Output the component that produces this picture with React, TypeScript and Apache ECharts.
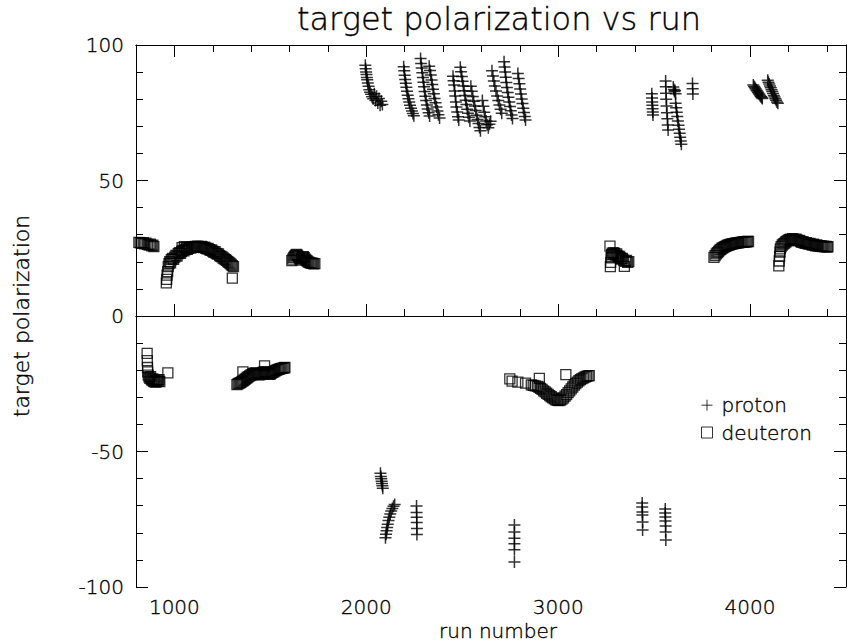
import { useEffect, useRef } from "react";
import * as echarts from "echarts";

const FONT = "DejaVu Sans";
const WEIGHT = 200;

// axis ticks
const xMajorTicks = [1000, 2000, 3000, 4000];
const xMinorTicks = [1200, 1400, 1600, 1800, 2200, 2400, 2600, 2800, 3200, 3400, 3600, 3800, 4200, 4400];

// ---- proton runs (positive polarization) ----
const protonA: [number, number][] = [
  [1995, 92.5], [1997, 91.2], [1999, 90.0], [2001, 89.1], [2003, 88.0], [2005, 87.2], [2008, 86.0],
  [2012, 84.8], [2016, 83.5], [2020, 82.6], [2025, 81.8], [2030, 80.9], [2036, 80.2], [2042, 82.0],
  [2048, 79.5], [2054, 81.1], [2060, 78.6], [2066, 80.3], [2072, 77.8], [2078, 79.2], [2084, 78.0],
];
const protonB: [number, number][] = [
  [2195, 92.0], [2198, 90.5], [2200, 88.8], [2203, 87.3], [2206, 85.9], [2209, 84.4], [2212, 82.9],
  [2216, 81.5], [2220, 80.2], [2224, 79.0], [2228, 77.8], [2233, 76.7], [2238, 75.6], [2243, 74.7], [2248, 73.9],
];
const protonC: [number, number][] = [
  [2283, 95.0], [2286, 93.2], [2289, 91.5], [2292, 89.8], [2295, 88.0], [2298, 86.3], [2301, 84.6],
  [2304, 82.8], [2308, 81.1], [2312, 79.5], [2316, 77.9], [2320, 76.4], [2325, 75.0], [2330, 73.8],
  [2328, 92.2], [2332, 90.6], [2336, 88.9], [2340, 87.1], [2344, 85.4], [2348, 83.7], [2352, 82.0],
  [2356, 80.3], [2361, 78.7], [2366, 77.1], [2371, 75.6], [2376, 74.3], [2382, 73.1],
];
const protonD: [number, number][] = [
  [2452, 88.5], [2455, 86.8], [2458, 85.2], [2461, 83.0], [2464, 81.2], [2467, 79.0], [2470, 77.1],
  [2474, 75.3], [2478, 73.5], [2482, 72.3],
  [2490, 91.8], [2494, 90.1], [2498, 88.4], [2502, 86.6], [2506, 84.9], [2510, 83.1], [2514, 81.4],
  [2518, 79.6], [2522, 78.0], [2526, 76.3], [2530, 74.8], [2535, 73.3], [2540, 72.0],
  [2545, 84.8], [2550, 82.9], [2555, 81.0], [2560, 79.2], [2565, 77.5], [2570, 75.8], [2575, 74.1],
  [2580, 72.5], [2585, 71.0], [2590, 69.6], [2595, 68.4],
  [2605, 79.5], [2610, 77.4], [2615, 75.2], [2620, 73.5], [2625, 72.0], [2630, 70.6], [2636, 69.5],
  [2642, 70.8], [2648, 71.9],
];
const protonE: [number, number][] = [
  [2655, 90.5], [2660, 88.6], [2665, 86.7], [2670, 84.9], [2676, 83.0], [2682, 81.2], [2688, 79.5],
  [2694, 77.9], [2700, 76.3], [2706, 74.8],
  [2718, 93.8], [2721, 91.9], [2724, 90.0], [2727, 88.1], [2730, 86.2], [2733, 84.3], [2737, 82.5],
  [2741, 80.7], [2745, 79.0], [2749, 77.3], [2753, 75.7], [2757, 74.2], [2762, 72.9],
  [2790, 89.5], [2794, 87.6], [2798, 85.7], [2802, 83.8], [2806, 81.9], [2810, 80.1], [2814, 78.4],
  [2818, 76.7], [2822, 75.1], [2826, 73.6], [2830, 72.3],
];
const protonF: [number, number][] = [
  [3488, 82.0], [3489, 80.4], [3490, 79.0], [3491, 77.8], [3492, 76.5], [3493, 75.3], [3494, 74.2],
  [3560, 86.7], [3561, 84.6], [3562, 82.2], [3563, 80.0], [3565, 77.5], [3567, 75.0], [3569, 72.8],
  [3571, 70.5], [3573, 68.6],
  [3600, 84.5], [3603, 83.6], [3606, 82.8], [3609, 83.2], [3612, 82.0],
  [3612, 78.5], [3615, 76.8], [3618, 75.2], [3621, 73.6], [3624, 72.0], [3627, 70.4], [3630, 68.9],
  [3633, 67.4], [3636, 66.0], [3639, 64.6], [3642, 63.4],
  [3700, 85.8], [3701, 83.9], [3702, 81.9],
];
const protonG: [number, number][] = [
  [4017, 85.2], [4021, 84.7], [4025, 84.3], [4029, 83.9], [4033, 83.4], [4037, 83.0], [4041, 82.6],
  [4045, 82.1], [4049, 81.7], [4053, 81.3], [4057, 80.9], [4061, 80.6], [4064, 80.3],
  [4092, 87.0], [4096, 86.3], [4100, 85.6], [4104, 84.9], [4108, 84.2], [4112, 83.5], [4116, 82.8],
  [4120, 82.1], [4124, 81.4], [4128, 80.8], [4132, 80.2], [4136, 79.6], [4140, 79.0], [4145, 78.5],
];

// ---- proton runs (negative polarization) ----
const protonNeg: [number, number][] = [
  [2074, -58.0], [2076, -59.2], [2078, -60.1], [2080, -61.0], [2082, -61.8], [2084, -62.6], [2086, -63.6],
  [2100, -81.8], [2103, -80.5], [2106, -79.2], [2109, -78.0], [2112, -76.8], [2116, -75.5], [2120, -74.3],
  [2125, -73.1], [2130, -72.0], [2136, -71.0], [2142, -70.2], [2148, -69.6],
  [2262, -70.1], [2262, -72.5], [2263, -74.3], [2263, -76.2], [2264, -78.4], [2264, -80.6],
  [2772, -77.1], [2772, -79.7], [2772, -82.0], [2772, -84.0], [2772, -86.3], [2772, -90.8],
  [3438, -69.0], [3438, -70.5], [3439, -72.3], [3439, -73.4], [3440, -76.0], [3440, -79.0],
  [3558, -71.2], [3558, -72.7], [3559, -74.2], [3559, -75.6], [3560, -77.5], [3560, -79.7], [3561, -82.7],
];

// ---- deuteron runs (positive polarization) ----
const deuteronA: [number, number][] = [
  [815, 27.2], [822, 27.0], [830, 26.8], [838, 27.1], [845, 26.6], [852, 26.9], [860, 26.4],
  [868, 26.2], [875, 26.5], [882, 25.9], [888, 26.1], [893, 25.6],
];
const deuteronB: [number, number][] = [
  [958, 12.2], [960, 13.5], [962, 15.1], [965, 16.4], [968, 18.2], [972, 19.3], [976, 20.1],
  [980, 19.6], [984, 20.8], [990, 21.3], [996, 20.9], [1002, 21.7], [1008, 22.4], [1014, 22.1],
  [1020, 23.0], [1026, 23.4], [1032, 23.1], [1038, 23.8], [1040, 25.2], [1044, 24.2], [1050, 24.0],
  [1052, 25.6], [1056, 24.5], [1062, 24.8], [1064, 25.4], [1068, 24.6], [1074, 25.0], [1080, 25.3],
  [1086, 25.1], [1092, 25.4], [1098, 25.6], [1104, 25.3], [1110, 25.7], [1116, 25.5], [1122, 25.8],
  [1128, 25.6], [1134, 25.4], [1140, 25.7], [1146, 25.5], [1152, 25.2], [1158, 25.4], [1164, 25.0],
  [1170, 24.8], [1176, 24.9], [1182, 24.5], [1188, 24.2], [1194, 24.4], [1200, 23.9], [1206, 23.5],
  [1212, 23.7], [1218, 23.1], [1224, 22.8], [1230, 22.9], [1236, 22.3], [1242, 22.0], [1248, 21.8],
  [1254, 21.4], [1260, 21.1], [1266, 20.8], [1272, 20.5], [1278, 20.1], [1284, 19.8], [1290, 19.4],
  [1296, 19.0], [1302, 18.6], [1308, 18.2], [1302, 14.0],
];
const deuteronC: [number, number][] = [
  [1612, 20.4], [1617, 21.0], [1622, 21.6], [1627, 22.1], [1632, 22.5], [1637, 22.7], [1642, 22.4],
  [1647, 21.9], [1652, 21.2], [1657, 20.6], [1662, 21.1], [1667, 21.7], [1672, 21.9], [1677, 21.5],
  [1682, 21.0], [1687, 20.6], [1692, 20.3], [1697, 20.0], [1702, 19.8], [1708, 19.6], [1714, 19.4],
  [1720, 19.5], [1726, 19.2], [1732, 19.3],
];
const deuteronD: [number, number][] = [
  [3270, 25.8], [3272, 18.2], [3274, 19.8], [3276, 21.5], [3278, 22.6], [3282, 23.2], [3286, 22.8],
  [3290, 23.4], [3295, 23.0], [3300, 22.5], [3305, 22.9], [3310, 22.2], [3315, 21.8], [3320, 22.0],
  [3325, 21.4], [3330, 21.0], [3335, 21.3], [3340, 20.6], [3345, 18.3], [3350, 20.2], [3356, 20.5],
  [3362, 19.8], [3368, 20.1],
];
const deuteronE: [number, number][] = [
  [3812, 21.6], [3818, 22.3], [3824, 22.9], [3830, 23.4], [3836, 23.8], [3842, 24.3], [3848, 24.6],
  [3854, 25.0], [3860, 25.2], [3866, 25.5], [3872, 25.7], [3878, 25.9], [3884, 26.1], [3890, 26.2],
  [3896, 26.4], [3902, 26.5], [3908, 26.6], [3914, 26.7], [3920, 26.8], [3926, 26.9], [3932, 27.0],
  [3938, 27.0], [3944, 27.1], [3950, 27.2], [3956, 27.2], [3962, 27.3], [3968, 27.3], [3974, 27.4],
  [3980, 27.4], [3986, 27.5], [3992, 27.5],
];
const deuteronF: [number, number][] = [
  [4150, 18.5], [4152, 20.3], [4154, 22.0], [4156, 23.6], [4158, 24.8], [4162, 25.6], [4168, 26.2],
  [4174, 26.6], [4180, 26.9], [4186, 27.3], [4192, 27.6], [4198, 27.9], [4204, 28.2], [4210, 28.4],
  [4216, 28.2], [4222, 28.5], [4228, 28.3], [4234, 28.1], [4240, 28.4], [4246, 28.0], [4252, 27.7],
  [4258, 27.9], [4264, 27.5], [4270, 27.2], [4276, 27.4], [4282, 27.0], [4288, 26.8], [4294, 27.1],
  [4300, 26.7], [4306, 26.5], [4312, 26.8], [4318, 26.4], [4324, 26.2], [4330, 26.5], [4336, 26.1],
  [4342, 25.9], [4348, 26.2], [4354, 25.8], [4360, 26.0], [4366, 25.7], [4372, 25.9], [4378, 25.6],
  [4384, 25.8], [4390, 25.5], [4396, 25.7], [4402, 25.4], [4406, 25.6],
];

// ---- deuteron runs (negative polarization) ----
const deuteronNegA: [number, number][] = [
  [858, -13.8], [859, -16.5], [860, -19.0], [861, -20.6], [864, -21.8], [868, -22.5], [872, -23.0],
  [876, -22.4], [880, -23.4], [884, -23.8], [888, -23.2], [892, -24.0], [896, -24.3], [900, -23.7],
  [904, -24.4], [908, -24.1], [912, -23.6], [916, -24.0], [920, -23.5], [924, -24.2], [966, -21.0],
];
const deuteronNegB: [number, number][] = [
  [1326, -25.3], [1332, -25.0], [1338, -24.8], [1344, -24.6], [1350, -24.3], [1356, -24.0], [1357, -20.6],
  [1362, -23.7], [1368, -23.4], [1374, -23.0], [1380, -22.7], [1386, -22.4], [1392, -22.1], [1398, -21.8],
  [1404, -21.6], [1410, -21.3], [1416, -21.1], [1422, -21.0], [1428, -21.2], [1434, -21.5], [1440, -21.7],
  [1446, -21.6], [1452, -21.3], [1458, -21.0], [1464, -20.7], [1470, -20.5], [1470, -18.4], [1476, -20.8],
  [1482, -21.0], [1488, -21.3], [1494, -21.5], [1500, -21.4], [1506, -21.1], [1512, -20.8], [1518, -20.6],
  [1524, -20.3], [1530, -20.1], [1536, -19.9], [1542, -19.7], [1548, -19.6], [1554, -19.4], [1560, -19.3],
  [1566, -19.2], [1572, -19.1], [1576, -19.0],
];
const deuteronNegC: [number, number][] = [
  [2748, -23.2], [2760, -24.0], [2790, -24.4], [2830, -24.8], [2860, -25.4], [2870, -25.6], [2880, -25.8],
  [2892, -26.0], [2900, -26.3], [2902, -23.0], [2908, -26.7], [2916, -27.1], [2924, -27.6], [2932, -28.0],
  [2940, -28.5], [2948, -28.9], [2956, -29.4], [2964, -29.8], [2972, -30.2], [2980, -30.6], [2988, -30.9],
  [2996, -31.1], [3004, -31.2], [3012, -31.0], [3020, -30.7], [3028, -30.2], [3036, -29.6], [3040, -21.6],
  [3044, -29.0], [3052, -28.3], [3060, -27.6], [3068, -26.9], [3076, -26.2], [3084, -25.5], [3092, -24.9],
  [3100, -24.4], [3108, -23.9], [3116, -23.5], [3124, -23.1], [3132, -22.8], [3140, -22.5], [3148, -22.3],
  [3156, -22.1], [3162, -22.0],
];

const protonData = [
  ...protonA, ...protonB, ...protonC, ...protonD, ...protonE, ...protonF, ...protonG, ...protonNeg,
];
const deuteronData = [
  ...deuteronA, ...deuteronB, ...deuteronC, ...deuteronD, ...deuteronE, ...deuteronF,
  ...deuteronNegA, ...deuteronNegB, ...deuteronNegC,
];

const PLUS = "path://M0,5L10,5M5,0L5,10";

export default function App() {
  const ref = useRef<HTMLDivElement>(null);

  useEffect(() => {
    if (!ref.current) return;
    const chart = echarts.init(ref.current, undefined, { renderer: "svg" });

    // thin monoline lettering, lightly outlined so the strokes read as black
    const txt = (fontSize: number) => ({
      fontFamily: FONT,
      fontWeight: WEIGHT,
      fontSize,
      color: "#000",
      textBorderColor: "#000",
      textBorderWidth: 0.35,
    });
    const axisLine = { show: true, lineStyle: { color: "#000", width: 1 } };
    const xBase = {
      type: "value" as const,
      min: 800,
      max: 4500,
      axisLine,
      splitLine: { show: false },
    };
    const yBase = {
      type: "value" as const,
      min: -100,
      max: 100,
      interval: 50,
      axisLine,
      axisTick: { show: true, inside: true, length: 12, lineStyle: { color: "#000" } },
      minorTick: { show: true, splitNumber: 5, length: 7, lineStyle: { color: "#000" } },
      splitLine: { show: false },
      minorSplitLine: { show: false },
    };

    chart.setOption({
      animation: false,
      backgroundColor: "#fff",
      textStyle: { fontFamily: FONT, fontWeight: WEIGHT, color: "#000" },
      title: [
        {
          text: "target polarization vs run",
          left: 499,
          top: 3,
          textAlign: "center",
          padding: 0,
          textStyle: txt(32),
        },
        {
          text: "run number",
          left: 498,
          top: 621,
          textAlign: "center",
          padding: 0,
          textStyle: txt(20),
        },
      ],
      grid: { left: 136, right: 1, top: 45, bottom: 56, containLabel: false },
      legend: {
        orient: "vertical",
        left: 701,
        top: 395,
        itemWidth: 11,
        itemHeight: 11,
        itemGap: 7,
        padding: 0,
        textStyle: { ...txt(20), lineHeight: 20, padding: [0, 0, 0, 4] },
        itemStyle: { color: "rgba(0,0,0,0)", borderColor: "#000", borderWidth: 1 },
        data: [
          { name: "proton", icon: PLUS },
          { name: "deuteron", icon: "rect" },
        ],
      },
      xAxis: [
        {
          ...xBase,
          position: "bottom",
          axisTick: { show: true, inside: true, length: 12, customValues: xMajorTicks, lineStyle: { color: "#000" } },
          axisLabel: {
            show: true,
            customValues: xMajorTicks,
            formatter: (v: number) => String(v),
            ...txt(20),
            margin: 10,
          },
        },
        {
          ...xBase,
          position: "bottom",
          axisTick: { show: true, inside: true, length: 7, customValues: xMinorTicks, lineStyle: { color: "#000" } },
          axisLabel: { show: false },
        },
        {
          ...xBase,
          position: "top",
          axisTick: { show: true, inside: true, length: 12, customValues: xMajorTicks, lineStyle: { color: "#000" } },
          axisLabel: { show: false },
        },
        {
          ...xBase,
          position: "top",
          axisTick: { show: true, inside: true, length: 7, customValues: xMinorTicks, lineStyle: { color: "#000" } },
          axisLabel: { show: false },
        },
      ],
      yAxis: [
        {
          ...yBase,
          position: "left",
          axisLabel: { show: true, ...txt(20), margin: 12 },
          name: "target polarization",
          nameLocation: "middle",
          nameRotate: 90,
          nameGap: 104,
          nameTextStyle: txt(22),
        },
        {
          ...yBase,
          position: "right",
          axisLabel: { show: false },
        },
      ],
      series: [
        {
          name: "proton",
          type: "scatter",
          xAxisIndex: 0,
          yAxisIndex: 0,
          symbol: PLUS,
          symbolSize: 12,
          itemStyle: { color: "rgba(0,0,0,0)", borderColor: "#000", borderWidth: 1.5 },
          data: protonData,
          silent: true,
        },
        {
          name: "deuteron",
          type: "scatter",
          xAxisIndex: 0,
          yAxisIndex: 0,
          symbol: "rect",
          symbolSize: 10,
          itemStyle: { color: "rgba(0,0,0,0)", borderColor: "#000", borderWidth: 1.3 },
          data: deuteronData,
          silent: true,
          markLine: {
            silent: true,
            symbol: ["none", "none"],
            label: { show: false },
            lineStyle: { color: "#000", width: 1, type: "solid" },
            data: [{ yAxis: 0 }],
          },
        },
      ],
    });

    return () => chart.dispose();
  }, []);

  return (
    <div
      ref={ref}
      style={{ position: "fixed", left: 0, top: 0, width: 847, height: 643, background: "#fff" }}
    />
  );
}
